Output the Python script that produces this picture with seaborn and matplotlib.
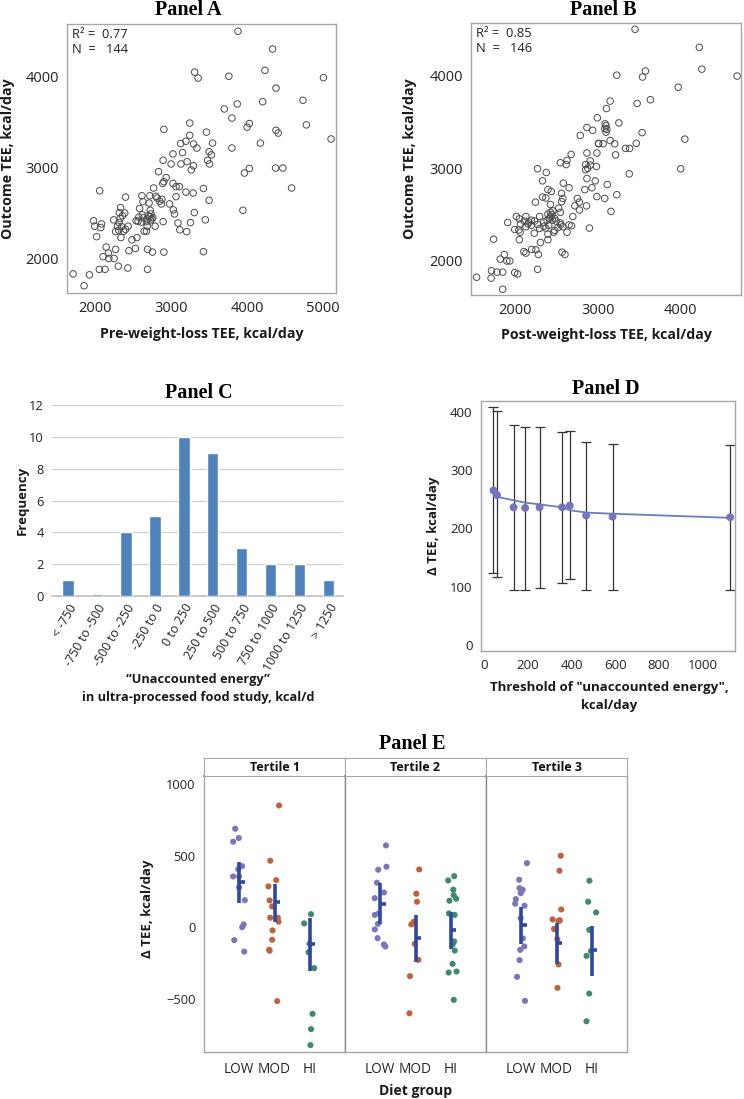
import matplotlib.pyplot as plt
import seaborn as sns
import pandas as pd
import numpy as np

W, H = 744, 1099

# Panel A: pre-weight-loss TEE vs outcome TEE (kcal/day)
a_points = [
    (3880, 4500), (4335, 4305), (4235, 4070), (3310, 4050), (3355, 3985), (3760, 4005),
    (5005, 3990), (4380, 3875), (4735, 3740), (4205, 3725), (3870, 3700), (3700, 3645),
    (3800, 3545), (2905, 3420), (3245, 3490), (4030, 3485), (4000, 3445), (4780, 3470),
    (5105, 3315), (4380, 3410), (4410, 3380), (3465, 3390), (3245, 3355), (3195, 3290),
    (3125, 3265), (3295, 3260), (3340, 3215), (3545, 3270), (4175, 3270), (3800, 3215),
    (3150, 3165), (3025, 3150), (3500, 3175), (3530, 3140), (2895, 3080), (3480, 3080),
    (3130, 3040), (3000, 3040), (3210, 3065), (3295, 3020), (3505, 3040), (3265, 2975),
    (4030, 2990), (3965, 2940), (4375, 2995), (4470, 2995), (2835, 2955), (2935, 2890),
    (2905, 2845), (2890, 2825), (3025, 2825), (3110, 2790), (3065, 2790), (2770, 2775),
    (3195, 2730), (3290, 2720), (3425, 2770), (4585, 2775), (2060, 2745), (3065, 2680),
    (2400, 2675), (2615, 2690), (2720, 2690), (2815, 2665), (2850, 2630), (2870, 2600),
    (2980, 2600), (3500, 2640), (2630, 2625), (2335, 2560), (2710, 2610), (2585, 2550),
    (3030, 2535), (2320, 2505), (2390, 2500), (3045, 2490), (3305, 2505), (3945, 2530),
    (2725, 2530), (2735, 2490), (2575, 2455), (2640, 2450), (2720, 2460), (2685, 2435),
    (2745, 2435), (2540, 2415), (2565, 2410), (1980, 2415), (2085, 2380), (1995, 2355),
    (2075, 2340), (2245, 2425), (2315, 2395), (2295, 2355), (2350, 2350), (2435, 2355),
    (2375, 2300), (2270, 2295), (2310, 2310), (2675, 2405), (2685, 2355), (2790, 2355),
    (2895, 2405), (2645, 2300), (2675, 2300), (3090, 2390), (3255, 2395), (3450, 2425),
    (3115, 2315), (3205, 2295), (2020, 2240), (2340, 2230), (2550, 2230), (2485, 2205),
    (2145, 2125), (2270, 2100), (2530, 2110), (2445, 2085), (2690, 2100), (2755, 2070),
    (2905, 2070), (3425, 2075), (2175, 2060), (2105, 2020), (2180, 2000), (2250, 2000),
    (2305, 1915), (2430, 1895), (2055, 1880), (2130, 1880), (2690, 1880), (1710, 1830),
    (1925, 1820), (1855, 1700), (2620, 2480), (2700, 2470), (2760, 2450), (2360, 2470),
    (2330, 2440), (2610, 2400), (2730, 2415), (2880, 2650), (2800, 2685), (2400, 2320),
]

# Panel B: post-weight-loss TEE vs outcome TEE (kcal/day)
b_points = [
    (3450, 4500), (4225, 4305), (4255, 4070), (4680, 3995), (3230, 4005), (3575, 4050),
    (3540, 3985), (3970, 3875), (3635, 3740), (3150, 3725), (3105, 3645), (3475, 3700),
    (2995, 3545), (3255, 3490), (3090, 3480), (2870, 3440), (2940, 3410), (3085, 3430),
    (3100, 3390), (2790, 3355), (3535, 3385), (4050, 3315), (3150, 3300), (3010, 3265),
    (3065, 3265), (3205, 3265), (3465, 3270), (3335, 3215), (3385, 3215), (3215, 3145),
    (2870, 3165), (2990, 3165), (2680, 3150), (2550, 3060), (2630, 3085), (2620, 3040),
    (2855, 3040), (2910, 3080), (2910, 3035), (2985, 3020), (2855, 2985), (2275, 2995),
    (2380, 2955), (4000, 2995), (3380, 2940), (2870, 2890), (2970, 2865), (2335, 2865),
    (2585, 2840), (3115, 2825), (2655, 2790), (2400, 2770), (2845, 2770), (2930, 2790),
    (2440, 2750), (2565, 2730), (3230, 2715), (2335, 2690), (2375, 2680), (2580, 2675),
    (2755, 2675), (2990, 2695), (3085, 2675), (2250, 2635), (2565, 2640), (2780, 2635),
    (2430, 2610), (2725, 2595), (2865, 2595), (2530, 2570), (2780, 2550), (3160, 2535),
    (2430, 2525), (2550, 2525), (2400, 2505), (2020, 2480), (2135, 2480), (2300, 2480),
    (2700, 2480), (2420, 2460), (2480, 2460), (2055, 2455), (1915, 2415), (2170, 2420),
    (2240, 2430), (2115, 2430), (2390, 2440), (2455, 2440), (2550, 2410), (2070, 2400),
    (2200, 2385), (2135, 2370), (2275, 2395), (2350, 2375), (2410, 2385), (2555, 2390),
    (2655, 2390), (2685, 2380), (2375, 2355), (2900, 2355), (2000, 2340), (2050, 2335),
    (2065, 2310), (2235, 2300), (2470, 2310), (2400, 2290), (2630, 2310), (2055, 2230),
    (1745, 2235), (2400, 2230), (2310, 2200), (2205, 2125), (2110, 2100), (2135, 2085),
    (2255, 2120), (2285, 2070), (2570, 2095), (2605, 2070), (1875, 2070), (1825, 2020),
    (1905, 2000), (1940, 2000), (2275, 1910), (1720, 1895), (1785, 1880), (1855, 1880),
    (2000, 1875), (2035, 1860), (1540, 1825), (1715, 1815), (1855, 1695), (2450, 2500),
    (2430, 2480), (2500, 2430), (2350, 2420), (2200, 2440), (2300, 2350), (2520, 2360),
    (2460, 2540), (2580, 2370), (3100, 3460), (3110, 3420), (2880, 3000), (3010, 3270),
    (2480, 2330), (2160, 2400),
]

# Panel C: histogram of unaccounted energy
c_bins = ["< -750", "-750 to -500", "-500 to -250", "-250 to 0", "0 to 250",
          "250 to 500", "500 to 750", "750 to 1000", "1000 to 1250", "> 1250"]
c_freq = [1, 0.1, 4, 5, 10, 9, 3, 2, 2, 1]

# Panel D: delta TEE by threshold
d_thresh = [43, 59, 135, 188, 254, 357, 392, 467, 588, 1126]
d_mean = [265, 257, 236, 235, 236, 236, 239, 222, 220, 219]
d_lo = [124, 116, 95, 95, 98, 106, 113, 95, 94, 95]
d_hi = [407, 401, 377, 373, 373, 365, 366, 348, 345, 343]
d_fit = [256, 254, 248, 244, 241, 236, 231, 227, 225, 218]

# Panel E: delta TEE by diet group within tertiles
tertiles = ["Tertile 1", "Tertile 2", "Tertile 3"]
groups = ["LOW", "MOD", "HI"]
t1_low = [689, 598, 624, 427, 406, 355, 355, 278, 189, 19, 0, -91, -171]
t1_mod = [852, 465, 329, 285, 187, 145, 66, 66, 38, -23, -88, -165, -158, -518]
t1_hi = [91, 26, -116, -175, -287, -607, -714, -826]
t2_low = [572, 423, 402, 311, 243, 203, 96, 86, 23, -16, -77, -121, -135]
t2_mod = [404, 234, 178, 37, 19, -117, -229, -343, -603]
t2_hi = [357, 327, 262, 224, 199, 185, 96, 86, -100, -121, -164, -257, -311, -318, -509]
t3_low = [448, 332, 262, 273, 238, 196, 164, 150, 63, -79, -135, -159, -231, -348, -516]
t3_mod = [500, 395, 124, 42, 47, 54, 47, -14, -14, -12, -84, -261, -425]
t3_hi = [325, 178, 103, -19, -168, -201, -465, -659]
e_mean = [[315, 175, -121], [164, -77, -19], [17, -114, -160]]
e_lo = [[170, 35, -308], [23, -245, -152], [-117, -257, -345]]
e_hi = [[455, 304, 61], [311, 82, 107], [140, 28, 10]]

sns.set_style("white")
plt.rcParams["font.family"] = ["Open Sans", "DejaVu Sans"]

FRAME = "#a6a6a6"
TEXT = "#222222"
LABEL = dict(fontsize=9.5, fontweight="bold", color="#1a1a1a")
BIGLABEL = dict(LABEL, fontsize=10.2)
TITLE = dict(fontsize=14.5, fontweight="bold", family="Liberation Serif", color="black",
             va="baseline")


def rect(l, t, r, b):
    return [l / W, 1 - b / H, (r - l) / W, (b - t) / H]


def ftext(fig, x, y, s, **kw):
    kw.setdefault("ha", "center")
    kw.setdefault("va", "center")
    fig.text(x / W, 1 - y / H, s, **kw)


def frame(ax, labelsize=9, color=FRAME):
    for sp in ax.spines.values():
        sp.set_visible(True)
        sp.set_color(color)
        sp.set_linewidth(1.0)
    ax.tick_params(axis="both", direction="out", length=4, width=0.8, color="#8c8c8c",
                   labelsize=labelsize, labelcolor=TEXT, pad=2)
    ax.set_xlabel("")
    ax.set_ylabel("")


def scatter_panel(ax, pts, xlim, ylim, xticks, r2, n):
    df = pd.DataFrame(pts, columns=["x", "y"])
    sns.scatterplot(x="x", y="y", data=df, ax=ax, facecolor="none",
                    edgecolor="#4a4a4a", s=22, linewidth=0.7)
    ax.set_xlim(*xlim)
    ax.set_ylim(*ylim)
    ax.set_xticks(xticks)
    ax.set_yticks([2000, 3000, 4000])
    frame(ax, labelsize=10.5)
    ax.text(0.02, 0.985, "R² =  %s\nN  =   %d" % (r2, n), transform=ax.transAxes,
            ha="left", va="top", fontsize=9.3, color=TEXT, linespacing=1.15)


def hist_panel(ax):
    sns.barplot(x=c_bins, y=c_freq, color="#4f81bd", saturation=1, width=0.4,
                errorbar=None, ax=ax, zorder=3)
    ax.set_ylim(0, 12)
    ax.set_xlim(-0.55, 9.5)
    ax.set_yticks(range(0, 13, 2))
    ax.yaxis.grid(True, color="#d0d0d0", linewidth=0.9, zorder=0)
    for side in ["top", "right", "left"]:
        ax.spines[side].set_visible(False)
    ax.spines["bottom"].set_color("#bfbfbf")
    ax.spines["bottom"].set_linewidth(1.2)
    ax.tick_params(axis="y", length=3, color="#bfbfbf", labelsize=9.3, labelcolor=TEXT, pad=3)
    ax.tick_params(axis="x", length=0, labelsize=9, labelcolor=TEXT, pad=4)
    plt.setp(ax.get_xticklabels(), rotation=60, ha="right", rotation_mode="anchor")
    ax.set_xlabel("")
    ax.set_ylabel("")


def threshold_panel(ax):
    yerr = [np.array(d_mean) - np.array(d_lo), np.array(d_hi) - np.array(d_mean)]
    ax.errorbar(d_thresh, d_mean, yerr=yerr, fmt="none", ecolor="#333333",
                elinewidth=0.9, capsize=3.5, capthick=0.9, zorder=1)
    sns.lineplot(x=d_thresh, y=d_fit, color="#6a7fb8", linewidth=1.3, ax=ax, zorder=2)
    sns.scatterplot(x=d_thresh, y=d_mean, color="#7573b9", s=32, edgecolor="none",
                    ax=ax, zorder=3)
    ax.set_xlim(-14, 1148)
    ax.set_ylim(-10, 418)
    ax.set_xticks(range(0, 1001, 200))
    ax.set_yticks(range(0, 401, 100))
    frame(ax, labelsize=9.5)


def tertile_panel(ax, i, data, first):
    df = pd.DataFrame({"group": sum([[g] * len(v) for g, v in zip(groups, data)], []),
                       "dtee": sum(data, [])})
    sns.stripplot(data=df, x="group", y="dtee", hue="group", order=groups,
                  hue_order=groups, palette=["#7977b9", "#c0623f", "#3f8a6c"],
                  jitter=0.18, size=4.4, linewidth=0, legend=False, ax=ax, zorder=2)
    pos = np.arange(len(groups))
    ax.vlines(pos, e_lo[i], e_hi[i], color="#2e47a0", linewidth=2.6, zorder=3)
    ax.hlines(e_mean[i], pos, pos + 0.15, color="#2e47a0", linewidth=2.6, zorder=3)
    ax.set_xlim(-1, 3)
    ax.set_ylim(-874, 1058)
    ax.set_yticks([-500, 0, 500, 1000])
    frame(ax, labelsize=9.3)
    ax.spines["top"].set_color("#8c8c8c")
    ax.spines["top"].set_linewidth(1.4)
    if not first:
        ax.spines["left"].set_color("#8c8c8c")
        ax.tick_params(axis="y", left=False, labelleft=False)
    ax.tick_params(axis="x", labelsize=9.8, pad=3)


def run_all_plots():
    np.random.seed(11)
    fig = plt.figure(figsize=(W / 100, H / 100), dpi=100)

    ax_a = fig.add_axes(rect(67, 24, 336, 293))
    scatter_panel(ax_a, a_points, (1630, 5170), (1620, 4580), [2000, 3000, 4000, 5000], "0.77", 144)
    ftext(fig, 188, 15, "Panel A", **TITLE)
    ftext(fig, 202, 334, "Pre-weight-loss TEE, kcal/day", **BIGLABEL)
    ftext(fig, 8, 159, "Outcome TEE, kcal/day", rotation=90, **BIGLABEL)

    ax_b = fig.add_axes(rect(471, 23, 741, 295))
    scatter_panel(ax_b, b_points, (1473, 4727), (1633, 4568), [2000, 3000, 4000], "0.85", 146)
    ftext(fig, 603, 15, "Panel B", **TITLE)
    ftext(fig, 606, 335, "Post-weight-loss TEE, kcal/day", **BIGLABEL)
    ftext(fig, 410, 159, "Outcome TEE, kcal/day", rotation=90, **BIGLABEL)

    ax_c = fig.add_axes(rect(52, 405, 343, 596))
    hist_panel(ax_c)
    ftext(fig, 199, 398, "Panel C", **TITLE)
    ftext(fig, 22, 500, "Frequency", rotation=90, **LABEL)
    ftext(fig, 198, 680, "\u201cUnaccounted energy\u201d", **dict(LABEL, fontsize=9.2))
    ftext(fig, 198, 697, "in ultra-processed food study, kcal/d", **dict(LABEL, fontsize=9.2))

    ax_d = fig.add_axes(rect(481, 401, 735, 651))
    threshold_panel(ax_d)
    ftext(fig, 606, 394, "Panel D", **TITLE)
    ftext(fig, 434, 526, "\u0394 TEE, kcal/day", rotation=90, **LABEL)
    ftext(fig, 609, 688, 'Threshold of "unaccounted energy",', **LABEL)
    ftext(fig, 609, 705, "kcal/day", **LABEL)

    e_data = [[t1_low, t1_mod, t1_hi], [t2_low, t2_mod, t2_hi], [t3_low, t3_mod, t3_hi]]
    edges = [204, 345, 486, 627]
    for i, name in enumerate(tertiles):
        ax = fig.add_axes(rect(edges[i], 776, edges[i + 1], 1052))
        tertile_panel(ax, i, e_data[i], i == 0)
        hdr = fig.add_axes(rect(edges[i], 758, edges[i + 1], 776))
        hdr.set_xticks([])
        hdr.set_yticks([])
        for sp in hdr.spines.values():
            sp.set_color(FRAME)
        hdr.text(0.5, 0.45, name, ha="center", va="center", fontsize=9,
                 fontweight="bold", color="#111111", transform=hdr.transAxes)
    ftext(fig, 412, 749, "Panel E", **TITLE)
    ftext(fig, 147, 909, "\u0394 TEE, kcal/day", rotation=90, **LABEL)
    ftext(fig, 416, 1091, "Diet group", **dict(LABEL, fontsize=10))

    fig.savefig("out.png", dpi=100)


run_all_plots()
